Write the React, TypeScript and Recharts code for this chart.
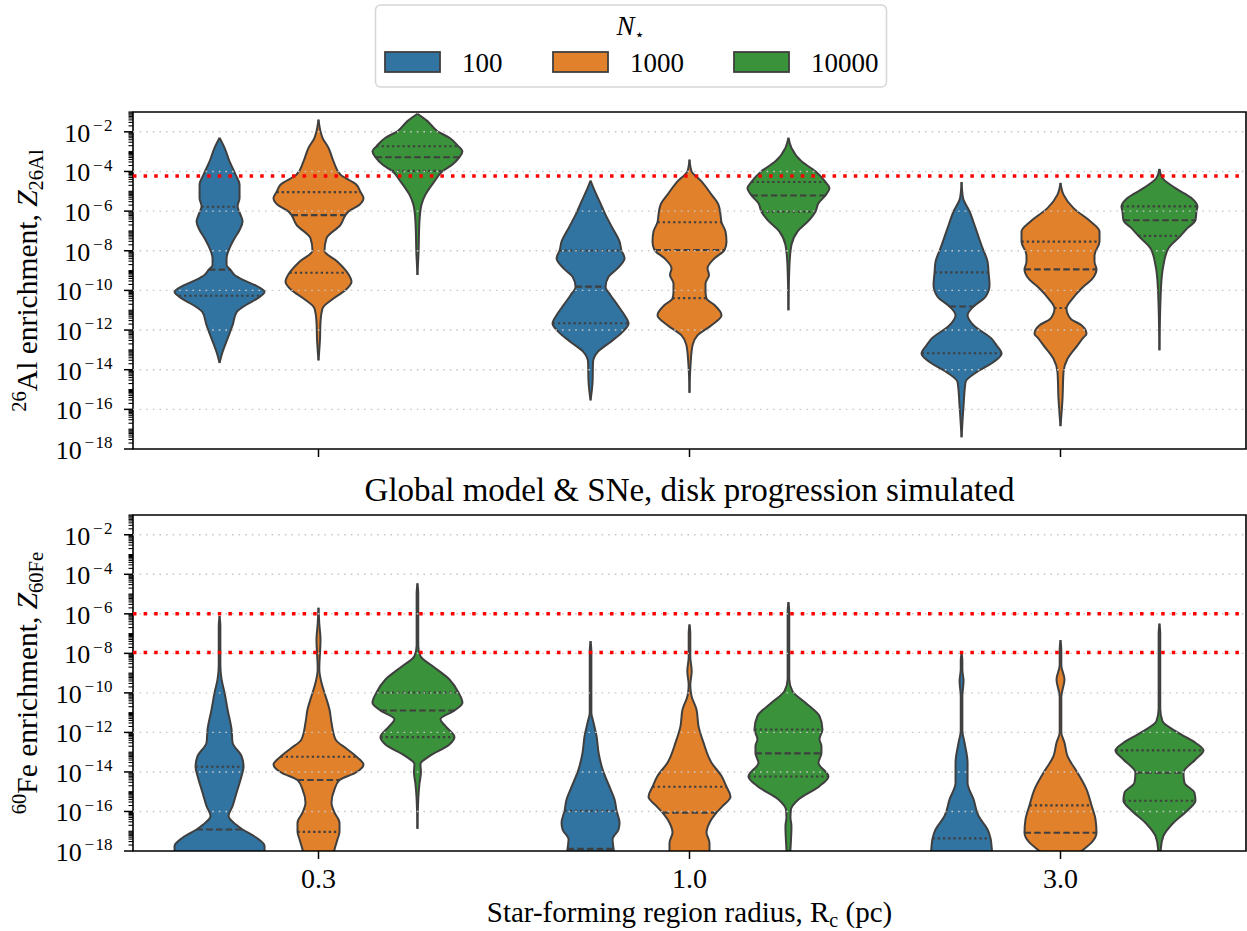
import React from 'react';
import { ComposedChart, Area, XAxis, YAxis, ReferenceLine, ReferenceArea } from 'recharts';

const FONT = '"Liberation Serif", "Times New Roman", serif';
const CATEGORIES = ['0.3', '1.0', '3.0'];
const N_STARS = ['100', '1000', '10000'];
const HUE_COLORS = ['#3274a1', '#e1812c', '#3a923a'];
const OUTLINE = '#3f3f3f';
const HUE_OFFSETS = [-0.2667, 0, 0.2667];
const DENSITY_SCALE = 1 / 371;

const Y_MIN = -18;
const Y_MAX = -1;
const MAJOR_EXPONENTS = [-18, -16, -14, -12, -10, -8, -6, -4, -2];
const GRID_EXPONENTS = [-16, -14, -12, -10, -8, -6, -4, -2];
const AL_THRESHOLDS = [-4.23];
const FE_THRESHOLDS = [-6.0, -7.96];

// violin profiles: [log10 value, kde half-width]
const al_03_n100 = [[-13.66,0],[-13.11,3],[-12.43,8],[-11.76,13],[-11.1,17],[-10.75,26],[-10.4,38],[-10.07,45],[-9.75,36],[-9.48,24],[-9.22,15],[-8.97,11],[-8.72,7],[-8.38,7],[-7.87,10],[-7.37,15],[-6.95,20],[-6.52,23],[-6.19,21],[-5.76,18],[-5.34,20],[-4.67,20],[-4.16,16],[-3.49,10],[-2.81,5],[-2.3,0]];
const al_03_n1000 = [[-13.53,0],[-12.43,1.5],[-11.59,2],[-10.91,4],[-10.41,15],[-9.98,27],[-9.56,33],[-9.11,29],[-8.55,19],[-8.0,6],[-7.37,8],[-6.69,22],[-6.2,27],[-6.02,30],[-5.68,41],[-5.34,45],[-5.04,42],[-4.67,38],[-4.16,22],[-3.49,15],[-2.81,10],[-2.3,4],[-1.97,2],[-1.38,0]];
const al_03_n10000 = [[-9.22,0],[-8.21,1],[-6.52,2],[-5.68,4],[-5.17,8],[-4.5,17],[-3.99,25],[-3.65,35],[-3.28,42],[-2.98,45],[-2.73,41],[-2.3,32],[-1.97,20],[-1.46,10],[-1.09,0]];
const al_10_n100 = [[-15.55,0],[-14.62,2],[-13.61,2.5],[-13.11,7],[-12.6,20],[-12.09,32],[-11.67,38],[-11.25,34],[-10.74,27],[-10.24,20],[-9.81,15],[-9.31,18],[-8.89,27],[-8.38,34],[-7.99,31],[-7.54,29],[-6.86,22],[-6.19,15],[-5.51,9],[-4.84,3],[-4.46,0]];
const al_10_n1000 = [[-15.16,0],[-13.78,1],[-12.77,3],[-12.27,8],[-11.76,22],[-11.25,32],[-10.74,25],[-10.41,17],[-10.07,16],[-9.65,16],[-9.22,19.5],[-8.89,18],[-8.38,25],[-7.96,35],[-7.54,37],[-7.03,36],[-6.56,32],[-6.19,31],[-5.68,29],[-5.17,22],[-4.5,12],[-3.99,2],[-3.4,0]];
const al_10_n10000 = [[-11.0,0],[-8.72,1],[-7.7,3],[-7.03,9],[-6.44,21],[-6.03,27],[-5.6,30],[-5.21,37],[-4.84,41],[-4.53,37],[-3.99,27],[-3.49,13],[-2.81,3],[-2.3,0]];
const al_30_n100 = [[-17.41,0],[-15.81,2],[-14.62,4],[-14.12,15],[-13.61,32],[-13.19,40],[-12.77,35],[-12.43,30],[-11.76,12],[-11.25,6],[-10.81,12],[-10.32,24],[-9.73,28],[-9.09,27],[-8.55,26],[-7.87,21],[-6.86,14],[-6.02,8],[-5.34,1.5],[-4.53,0]];
const al_30_n1000 = [[-16.85,0],[-15.47,2],[-14.12,3],[-13.45,7],[-12.77,17],[-12.43,22],[-12.18,26],[-11.76,21],[-11.42,10],[-10.91,6],[-10.41,12],[-9.9,21],[-9.4,32],[-8.94,36],[-8.55,34],[-8.22,34],[-7.54,39],[-7.03,39],[-6.52,30],[-5.85,13],[-5.17,3],[-4.58,0]];
const al_30_n10000 = [[-13.02,0],[-9.9,1.5],[-8.72,4],[-7.87,9],[-7.25,21],[-6.86,28],[-6.46,36],[-6.02,37],[-5.76,38],[-5.34,32],[-4.84,16],[-4.33,3],[-3.87,0]];

const fe_03_n100 = [[-18.6,45],[-17.75,45],[-17.33,37],[-16.91,23],[-16.65,16],[-16.23,9],[-15.73,13],[-15.05,17],[-14.21,22],[-13.74,24],[-13.2,22],[-12.52,13],[-11.85,12],[-10.84,8],[-9.99,5],[-9.32,2],[-8.6,0.8],[-6.6,0.8],[-6.11,0]];
const fe_03_n1000 = [[-18.6,13],[-17.92,16],[-17.41,19],[-17.03,21],[-16.57,21],[-16.06,16],[-15.56,13],[-14.88,16],[-14.41,21],[-14.04,37],[-13.62,45],[-13.23,38],[-12.86,29],[-12.35,17],[-11.51,13],[-10.84,11],[-10.16,7],[-9.49,3],[-8.8,0.8],[-7.3,2],[-6.5,0.8],[-5.69,0]];
const fe_03_n10000 = [[-16.87,0],[-15.22,1],[-14.6,2],[-14.0,3.5],[-13.6,3],[-13.2,12],[-12.61,32],[-12.24,37],[-11.68,28],[-11.34,23],[-10.89,37],[-10.5,45],[-9.98,41],[-9.32,32],[-8.64,15],[-8.14,3],[-7.6,0.8],[-5.0,0.8],[-4.46,0]];
const fe_10_n100 = [[-18.6,25],[-17.89,23],[-17.41,22],[-16.91,28],[-16.57,29],[-15.96,26],[-15.39,24],[-14.88,20],[-13.87,12],[-13.03,8],[-12.19,6],[-11.51,3],[-11.0,0.8],[-7.9,0.8],[-7.38,0]];
const fe_10_n1000 = [[-18.6,20],[-17.58,20],[-17.08,17],[-16.57,20],[-16.06,27],[-15.73,33],[-15.25,41],[-14.75,37],[-14.21,32],[-13.53,22],[-12.52,14],[-11.68,9],[-10.84,7],[-10.16,2],[-9.6,0.8],[-8.9,2.2],[-8.2,0.8],[-7.0,0.8],[-6.54,0]];
const fe_10_n10000 = [[-18.6,1],[-17.92,2],[-16.74,3],[-16.3,2],[-15.9,2.5],[-15.39,10],[-14.72,31],[-14.23,40],[-13.53,30],[-13.06,33],[-12.69,33],[-12.35,31],[-11.85,34],[-11.17,31],[-10.5,17],[-9.91,4],[-9.3,0.8],[-5.9,0.8],[-5.41,0]];
const fe_30_n100 = [[-18.6,31],[-17.75,30],[-17.36,29],[-16.91,26],[-16.23,17],[-15.39,12],[-14.55,6],[-13.53,6],[-12.52,3],[-11.9,0.8],[-10.2,0.8],[-9.4,2],[-8.8,0.8],[-8.4,0.8],[-7.97,0]];
const fe_30_n1000 = [[-18.6,8],[-17.92,23],[-17.58,31],[-17.08,36],[-16.4,35],[-15.69,31],[-14.88,26],[-14.04,17],[-13.2,7],[-12.52,4],[-12.0,0.8],[-10.2,0.8],[-9.32,4],[-8.6,0.8],[-7.8,0.8],[-7.33,0]];
const fe_30_n10000 = [[-18.6,1],[-17.92,1.3],[-17.24,4],[-16.57,14],[-15.9,29],[-15.46,36],[-15.05,35],[-14.55,25],[-14.04,24],[-13.37,36],[-12.91,44],[-12.52,36],[-12.02,19],[-11.43,3],[-10.8,0.8],[-7.0,0.8],[-6.5,0]];

// quartiles [q1, median, q3] (log10), null = below the axis
const al_quartiles = [
  [[-10.27, -8.95, -5.78], [-9.11, -6.2, -5.04], [-3.97, -3.28, -2.73]],
  [[-11.66, -9.81, -7.99], [-10.39, -7.96, -6.56], [-6.03, -5.21, -4.53]],
  [[-13.17, -10.81, -9.09], [-10.89, -8.94, -7.54], [-7.25, -6.46, -5.76]],
];
const fe_quartiles = [
  [[null, -16.91, -13.74], [-17.03, -14.41, -13.23], [-12.24, -10.89, -9.98]],
  [[null, -17.89, -15.96], [null, -16.06, -14.75], [-14.23, -13.06, -11.85]],
  [[null, null, -17.36], [null, -17.08, -15.69], [-15.46, -14.04, -12.91]],
];

const AL_PROFILES = [
  [al_03_n100, al_03_n1000, al_03_n10000],
  [al_10_n100, al_10_n1000, al_10_n10000],
  [al_30_n100, al_30_n1000, al_30_n10000],
];
const FE_PROFILES = [
  [fe_03_n100, fe_03_n1000, fe_03_n10000],
  [fe_10_n100, fe_10_n1000, fe_10_n10000],
  [fe_30_n100, fe_30_n1000, fe_30_n10000],
];

const Y_TICKS: number[] = [];
for (let k = -18; k <= -1; k++) {
  for (let m = 1; m <= 9; m++) {
    const v = k + Math.log10(m);
    if (v <= Y_MAX + 1e-9) Y_TICKS.push(v);
  }
}

function halfWidthAt(profile: number[][], y: number) {
  for (let i = 0; i < profile.length - 1; i++) {
    const [y0, d0] = profile[i];
    const [y1, d1] = profile[i + 1];
    if (y >= y0 && y <= y1) {
      const t = (y - y0) / (y1 - y0);
      return d0 + t * (d1 - d0);
    }
  }
  return 0;
}

const LogTick = (props: any) => {
  const { x, y, payload } = props;
  const v = payload.value;
  const r = Math.round(v);
  const isMajor = Math.abs(v - r) < 1e-6 && MAJOR_EXPONENTS.includes(r);
  const len = isMajor ? 9 : 4.5;
  return (
    <g>
      <line x1={x - len} x2={x} y1={y} y2={y} stroke="#000" strokeWidth={isMajor ? 1.5 : 1.1} />
      {isMajor && (
        <text x={x - 20.5} y={y + 10} textAnchor="end" fontFamily={FONT} fill="#000">
          <tspan fontSize={26}>10</tspan>
          <tspan fontSize={17} dx={2.6} dy={-10.6}>{'\u2212'}</tspan>
          <tspan fontSize={17} dx={1.5}>{String(-r)}</tspan>
        </text>
      )}
    </g>
  );
};

const CatTick = (props: any) => {
  const { x, y, payload, showLabel } = props;
  return (
    <g>
      <line x1={x} x2={x} y1={y} y2={y + 8} stroke="#000" strokeWidth={1.5} />
      {showLabel && (
        <text x={x} y={y + 37} textAnchor="middle" fontSize={28} fontFamily={FONT} fill="#000">
          {CATEGORIES[payload.value]}
        </text>
      )}
    </g>
  );
};

const YLabel = (props: any) => {
  const { viewBox, mass, iso } = props;
  const cx = viewBox.x + 37;
  const cy = viewBox.y + viewBox.height / 2;
  return (
    <text x={cx} y={cy} transform={`rotate(-90, ${cx}, ${cy})`} textAnchor="middle" fontFamily={FONT} fontSize={29.5} fill="#000">
      <tspan fontSize={20.5} dy={-11}>{mass}</tspan>
      <tspan dy={11}>{iso} enrichment, </tspan>
      <tspan fontStyle="italic">Z</tspan>
      <tspan fontSize={20.5} dy={6}>{mass + iso}</tspan>
    </text>
  );
};

const XLabel = (props: any) => {
  const { viewBox } = props;
  const cx = viewBox.x + viewBox.width / 2;
  const y = viewBox.y + 71;
  return (
    <text x={cx} y={y} textAnchor="middle" fontFamily={FONT} fontSize={29} fill="#000">
      <tspan>Star-forming region radius, R</tspan>
      <tspan fontSize={20} dy={5}>c</tspan>
      <tspan dy={-5}> (pc)</tspan>
    </text>
  );
};

function ViolinPanel(props: any) {
  const { profiles, quartiles, thresholds, height, marginTop, xAxisHeight, showTickLabels, mass, iso, withXLabel } = props;
  const violins: any[] = [];
  profiles.forEach((row: number[][][], c: number) =>
    row.forEach((profile: number[][], h: number) => {
      const center = c + HUE_OFFSETS[h];
      violins.push({
        key: `v${c}-${h}`,
        color: HUE_COLORS[h],
        center,
        profile,
        q: quartiles[c][h],
        data: profile.map(([y, d]) => ({ y, v: [center - d * DENSITY_SCALE, center + d * DENSITY_SCALE] })),
      });
    })
  );
  const segments: any[] = [];
  violins.forEach((vi) => {
    vi.q.forEach((qv: number | null, i: number) => {
      if (qv == null || qv < Y_MIN || qv > Y_MAX) return;
      const hw = halfWidthAt(vi.profile, qv) * DENSITY_SCALE;
      segments.push({
        key: `${vi.key}-q${i}`,
        y: qv,
        x0: vi.center - hw,
        x1: vi.center + hw,
        median: i === 1,
      });
    });
  });
  return (
    <ComposedChart width={1247} height={height} layout="vertical" margin={{ top: marginTop, right: 1, left: 0, bottom: 0 }}>
      <XAxis
        type="number"
        domain={[-0.5, 2.5]}
        allowDataOverflow
        ticks={[0, 1, 2]}
        interval={0}
        height={xAxisHeight}
        tickSize={0}
        tickMargin={0}
        tickLine={false}
        axisLine={false}
        tick={<CatTick showLabel={showTickLabels} />}
        label={withXLabel ? <XLabel /> : undefined}
      />
      <YAxis
        type="number"
        dataKey="y"
        domain={[Y_MIN, Y_MAX]}
        allowDataOverflow
        reversed
        ticks={Y_TICKS}
        interval={0}
        width={133}
        tickSize={0}
        tickMargin={0}
        tickLine={false}
        axisLine={false}
        tick={<LogTick />}
        label={<YLabel mass={mass} iso={iso} />}
      />
      {violins.map((vi) => (
        <Area
          key={vi.key}
          data={vi.data}
          dataKey="v"
          type="monotone"
          fill={vi.color}
          fillOpacity={1}
          stroke={OUTLINE}
          strokeWidth={2}
          strokeLinejoin="round"
          dot={false}
          activeDot={false}
          isAnimationActive={false}
        />
      ))}
      {segments.map((s) => (
        <ReferenceLine
          key={s.key}
          segment={[{ x: s.x0, y: s.y }, { x: s.x1, y: s.y }]}
          stroke={OUTLINE}
          strokeWidth={2.1}
          strokeDasharray={s.median ? '6.5 3.2' : '2.3 2.9'}
        />
      ))}
      {GRID_EXPONENTS.map((e) => (
        <ReferenceLine key={`g${e}`} y={e} stroke="#c8c8c8" strokeWidth={1.4} strokeDasharray="1.6 5" />
      ))}
      {thresholds.map((t: number) => (
        <ReferenceLine key={`t${t}`} y={t} stroke="#ff0000" strokeWidth={3.5} strokeDasharray="3.5 7.1" />
      ))}
      <ReferenceArea x1={-0.5} x2={2.5} y1={Y_MIN} y2={Y_MAX} fill="none" fillOpacity={0} stroke="#000" strokeWidth={1.6} />
    </ComposedChart>
  );
}

const LEGEND_PATCH_X = [385, 553, 734];
const LEGEND_TEXT_X = [462, 630, 811];

export default function App() {
  return (
    <div style={{ position: 'absolute', left: 0, top: 0, width: 1247, height: 931, background: '#fff', overflow: 'hidden' }}>
      <div style={{ position: 'absolute', left: 0, top: 100 }}>
        <ViolinPanel
          profiles={AL_PROFILES}
          quartiles={al_quartiles}
          thresholds={AL_THRESHOLDS}
          height={370}
          marginTop={12}
          xAxisHeight={21}
          showTickLabels={false}
          mass="26"
          iso="Al"
          withXLabel={false}
        />
      </div>
      <div style={{ position: 'absolute', left: 0, top: 470 }}>
        <ViolinPanel
          profiles={FE_PROFILES}
          quartiles={fe_quartiles}
          thresholds={FE_THRESHOLDS}
          height={461}
          marginTop={45}
          xAxisHeight={80}
          showTickLabels={true}
          mass="60"
          iso="Fe"
          withXLabel={true}
        />
      </div>
      <svg width={1247} height={100} style={{ position: 'absolute', left: 0, top: 0, pointerEvents: 'none' }}>
        <rect x={375.5} y={5} width={511} height={82} rx={5} fill="#fff" stroke="#d6d6d6" strokeWidth={1.5} />
        <text x={630.5} y={35} textAnchor="middle" fontFamily={FONT} fontSize={27} fill="#000">
          <tspan fontStyle="italic">N</tspan>
          <tspan fontSize={16} dy={5} fontFamily='"DejaVu Sans", sans-serif'>{'\u22c6'}</tspan>
        </text>
        {N_STARS.map((n, i) => (
          <g key={n}>
            <rect x={LEGEND_PATCH_X[i]} y={52} width={55} height={20} fill={HUE_COLORS[i]} stroke={OUTLINE} strokeWidth={1.8} />
            <text x={LEGEND_TEXT_X[i]} y={72} fontFamily={FONT} fontSize={27} fill="#000">{n}</text>
          </g>
        ))}
      </svg>
      <svg width={1247} height={40} style={{ position: 'absolute', left: 0, top: 470, pointerEvents: 'none' }}>
        <text x={689.5} y={31} textAnchor="middle" fontFamily={FONT} fontSize={33} fill="#000">
          Global model &amp; SNe, disk progression simulated
        </text>
      </svg>
    </div>
  );
}
